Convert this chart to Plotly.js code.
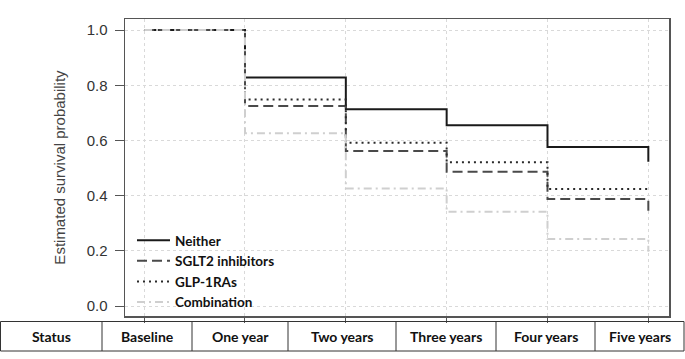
<!DOCTYPE html>
<html>
<head>
<meta charset="utf-8">
<script src="https://cdn.plot.ly/plotly-3.0.1.min.js"></script>
<style>html,body{margin:0;padding:0;background:#fff;}#chart{width:685px;height:359px;}</style>
</head>
<body>
<div id="chart"></div>
<script>
// ---- data ----
const times = [0, 1, 2, 3, 4, 5];
const neither = [1.0, 0.828, 0.713, 0.655, 0.576, 0.523];
const sglt2 = [1.0, 0.725, 0.562, 0.487, 0.388, 0.345];
const glp1 = [1.0, 0.748, 0.592, 0.521, 0.424, 0.415];
const combination = [1.0, 0.626, 0.426, 0.342, 0.243, 0.197];
const seriesNames = ['Neither', 'SGLT2 inhibitors', 'GLP-1RAs', 'Combination'];
const tableLabels = ['Status', 'Baseline', 'One year', 'Two years', 'Three years', 'Four years', 'Five years'];
const yTickVals = [0.0, 0.2, 0.4, 0.6, 0.8, 1.0];
const yTitle = 'Estimated survival probability';

// ---- layout geometry ----
const W = 685, H = 359;
const M = {l: 125, r: 16, t: 19, b: 43};
const plotW = W - M.l - M.r, plotH = H - M.t - M.b;
const px = x => (x - M.l) / plotW;          // pixel x -> paper
const py = y => (H - M.b - y) / plotH;      // pixel y -> paper
const colEdges = [0.5, 102, 192, 288, 396, 496, 595, 684];
const tableTop = 321.5, tableBottom = 351;

const styles = [
  {color: '#1a1a1a', dash: 'solid', width: 2},
  {color: '#4a4a4a', dash: '10px,5px', width: 2},
  {color: '#2a2a2a', dash: '2px,4px', width: 2},
  {color: '#cfcfcf', dash: '8px,4px,2px,4px', width: 2}
];
const seriesValues = [neither, sglt2, glp1, combination];

const traces = seriesValues.map((v, i) => ({
  x: times, y: v, type: 'scatter', mode: 'lines', name: seriesNames[i],
  line: {shape: 'hv', color: styles[i].color, dash: styles[i].dash, width: styles[i].width},
  hoverinfo: 'skip'
}));

const shapes = [];
const annotations = [];
const lineStyle = {color: '#333', width: 1};
shapes.push({type: 'rect', xref: 'paper', yref: 'paper', x0: px(colEdges[0]), x1: px(colEdges[colEdges.length - 1]), y0: py(tableBottom), y1: py(tableTop), line: lineStyle, layer: 'above'});
for (let i = 1; i < colEdges.length - 1; i++) {
  shapes.push({type: 'line', xref: 'paper', yref: 'paper', x0: px(colEdges[i]), x1: px(colEdges[i]), y0: py(tableBottom), y1: py(tableTop), line: lineStyle});
}
tableLabels.forEach((t, i) => {
  annotations.push({xref: 'paper', yref: 'paper', x: px((colEdges[i] + colEdges[i + 1]) / 2), y: py((tableTop + tableBottom) / 2),
    text: '<b>' + t + '</b>', showarrow: false, xanchor: 'center', yanchor: 'middle',
    font: {family: 'Lato, sans-serif', size: 14, color: '#111'}});
});

const layout = {
  width: W, height: H,
  margin: M,
  paper_bgcolor: '#fff', plot_bgcolor: '#fff',
  showlegend: true,
  legend: {x: px(132), y: py(225), xanchor: 'left', yanchor: 'top', bgcolor: 'rgba(0,0,0,0)',
    font: {family: 'Lato, sans-serif', size: 13.5, color: '#111', weight: 'bold'}, tracegroupgap: 0, itemwidth: 33},
  xaxis: {range: [-0.19, 5.205], tickvals: times, showticklabels: false, ticks: 'outside', ticklen: 5, tickcolor: '#555',
    showgrid: true, gridcolor: '#d9d9d9', griddash: 'dot', gridwidth: 1, zeroline: false,
    showline: true, linecolor: '#555', linewidth: 1.5, mirror: true, fixedrange: true},
  yaxis: {range: [-0.036, 1.04], tickvals: yTickVals, tickformat: '.1f', ticks: 'outside', ticklen: 9, tickcolor: '#555',
    tickfont: {family: 'Liberation Sans, Arial, sans-serif', size: 15, color: '#333'}, ticklabelstandoff: 4,
    showgrid: true, gridcolor: '#d9d9d9', griddash: 'dot', gridwidth: 1, zeroline: false,
    showline: true, linecolor: '#555', linewidth: 1.5, mirror: true, fixedrange: true,
    title: {text: yTitle, font: {family: 'Liberation Sans, Arial, sans-serif', size: 15, color: '#444'}, standoff: 17}},
  shapes: shapes,
  annotations: annotations
};

Plotly.newPlot('chart', traces, layout, {displayModeBar: false, staticPlot: true});
</script>
</body>
</html>
